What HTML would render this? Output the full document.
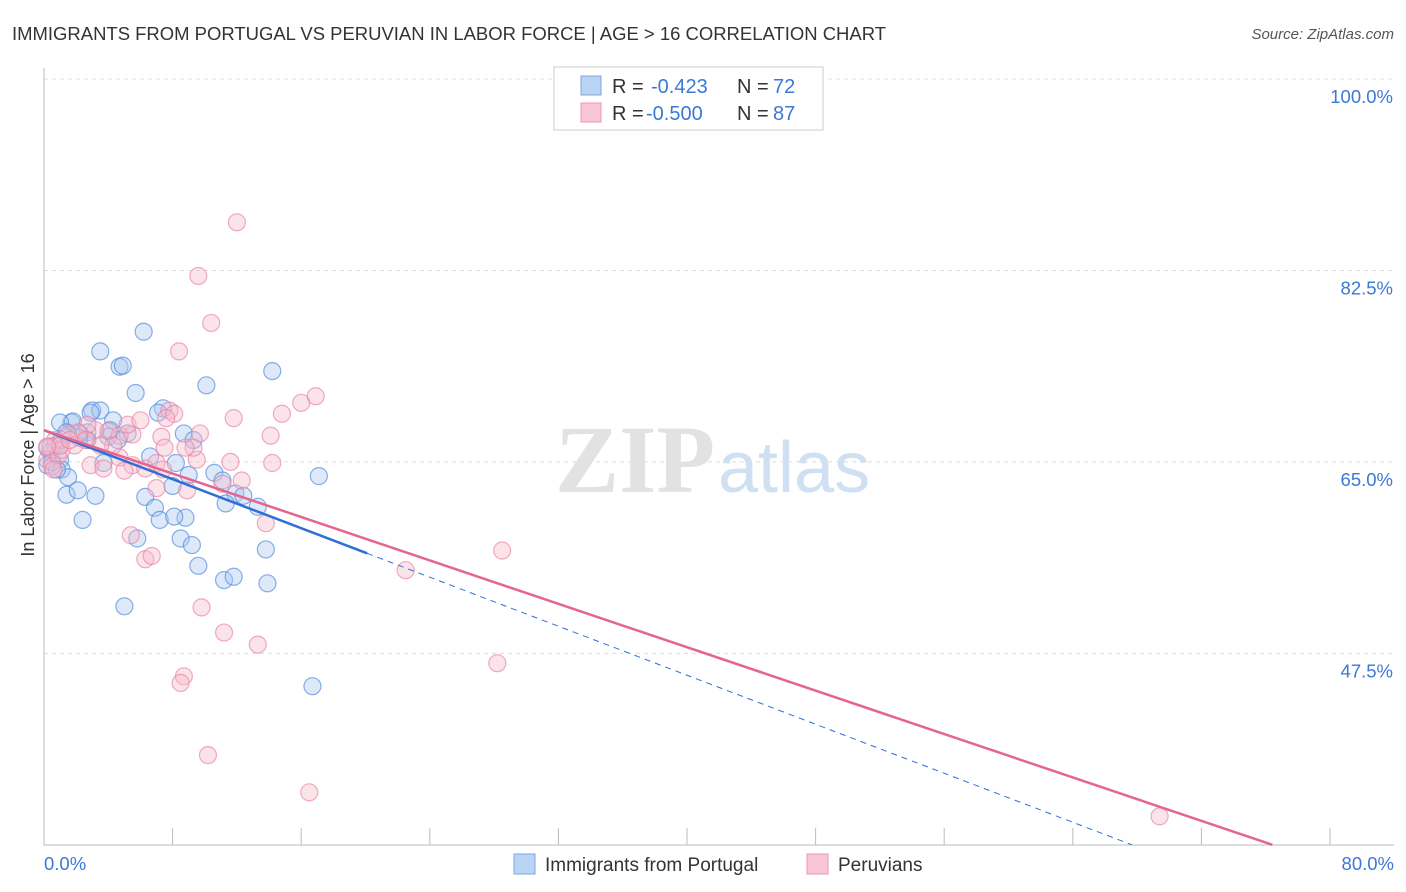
<!DOCTYPE html>
<html><head><meta charset="utf-8"><style>
body{margin:0;background:#fff;font-family:"Liberation Sans",sans-serif;}
svg{display:block}
</style></head><body>
<svg id="chart" width="1406" height="892">
<text x="12" y="40" font-size="18" fill="#333" textLength="874" lengthAdjust="spacingAndGlyphs">IMMIGRANTS FROM PORTUGAL VS PERUVIAN IN LABOR FORCE | AGE &gt; 16 CORRELATION CHART</text>
<text x="1394" y="39" font-size="15" fill="#555" font-style="italic" text-anchor="end">Source: ZipAtlas.com</text>
<text x="34" y="455" font-size="18" fill="#333" text-anchor="middle" transform="rotate(-90 34 455)">In Labor Force | Age &gt; 16</text>
<g id="grid"></g>
<text x="555" y="492" font-size="96" fill="#e2e2e2" font-family="Liberation Serif,serif" font-weight="bold">ZIP</text>
<text x="718" y="492" font-size="72" fill="#cfe0f3">atlas</text>
<g id="points"></g>
<g id="lines"></g>
<g>
<rect x="554" y="67" width="269" height="63" fill="#fff" stroke="#ccc"/>
<rect x="581" y="76" width="20" height="19" fill="#b9d3f3" stroke="#7aa7e0"/>
<rect x="581" y="103" width="20" height="19" fill="#f9c6d5" stroke="#ee95ae"/>
<text x="612" y="93" font-size="20" fill="#333">R =</text>
<text x="651" y="93" font-size="20" fill="#3b78d8">-0.423</text>
<text x="737" y="93" font-size="20" fill="#333">N =</text>
<text x="773" y="93" font-size="20" fill="#3b78d8">72</text>
<text x="612" y="120" font-size="20" fill="#333">R =</text>
<text x="646" y="120" font-size="20" fill="#3b78d8">-0.500</text>
<text x="737" y="120" font-size="20" fill="#333">N =</text>
<text x="773" y="120" font-size="20" fill="#3b78d8">87</text>
</g>
<g>
<rect x="514" y="854" width="21" height="20" fill="#b9d3f3" stroke="#7aa7e0"/>
<text x="545" y="871" font-size="19" fill="#333">Immigrants from Portugal</text>
<rect x="807" y="854" width="21" height="20" fill="#f9c6d5" stroke="#ee95ae"/>
<text x="838" y="871" font-size="19" fill="#333">Peruvians</text>
</g>
</svg>
<script>
const yTicks=[100,82.5,65,47.5];
const yTickLabels=["100.0%","82.5%","65.0%","47.5%"];
const xTickLabels=["0.0%","80.0%"];
const blueX=[6.2,3.5,4.7,4.9,5.7,10.1,14.2,7.4,3.0,3.5,4.3,1.7,1.8,2.9,1.0,2.7,4.0,5.2,7.1,8.7,9.3,2.7,2.2,0.7,0.4,1.0,0.2,1.1,1.5,1.4,3.2,2.1,2.4,5.0,3.7,6.6,8.2,8.0,9.0,6.3,6.9,7.2,8.8,8.5,9.2,5.8,9.6,11.2,11.8,13.8,13.9,10.6,11.1,11.9,11.3,12.4,13.3,17.1,16.7,8.1,1.1,0.2,0.5,0.8,1.4,2.2,4.6,4.1];
const blueY=[76.9,75.1,73.7,73.8,71.3,72.0,73.3,69.9,69.7,69.7,68.8,68.6,68.7,69.5,68.6,67.7,67.3,67.6,69.5,67.6,67.0,67.0,67.2,66.5,65.9,65.2,64.7,64.3,63.6,62.0,61.9,62.4,59.7,51.8,64.9,65.5,64.9,62.8,63.8,61.8,60.8,59.7,59.9,58.0,57.4,58.0,55.5,54.2,54.5,57.0,53.9,64.0,63.3,62.1,61.2,61.9,60.9,63.7,44.5,60.0,67.0,66.3,65.0,64.3,67.7,67.6,67.0,67.9];
const pinkX=[12.0,9.6,10.4,8.4,16.9,16.0,14.8,11.8,7.8,8.1,7.6,14.1,9.7,7.3,5.5,4.7,4.0,3.2,2.7,2.1,1.5,0.7,0.4,0.2,0.5,0.9,1.1,1.9,2.9,3.7,4.7,5.5,6.3,7.0,7.4,7.0,8.9,9.5,9.3,11.6,12.3,11.1,14.2,13.8,5.4,6.3,6.7,9.8,11.2,13.3,8.7,8.5,10.2,16.5,22.5,28.5,28.2,69.4,5.2,4.3,2.6,3.5,6.0,1.0,1.6,7.5,8.8,5.0,0.2,0.6];
const pinkY=[86.9,82.0,77.7,75.1,71.0,70.4,69.4,69.0,69.7,69.4,69.0,67.4,67.6,67.3,67.5,67.4,67.8,67.9,68.4,67.7,67.5,67.0,66.4,65.2,64.6,65.6,66.1,66.5,64.7,64.4,65.4,64.7,64.4,64.9,64.3,62.6,62.4,65.2,66.3,65.0,63.3,63.0,64.9,59.4,58.3,56.1,56.4,51.7,49.4,48.3,45.4,44.8,38.2,34.8,55.1,56.9,46.6,32.6,68.4,66.5,67.0,66.5,68.8,66.5,67.0,66.3,66.3,64.2,66.4,64.3];
const blueTrend=[67.9,-0.56];
const pinkTrend=[67.9,-0.496];
const NS="http://www.w3.org/2000/svg";
const X0=44,X1=1330,Y0=79;
function sx(v){return X0+(X1-X0)*v/80;}
function sy(v){return Y0+(100-v)*10.94;}
function mk(tag,attrs,parent){const e=document.createElementNS(NS,tag);for(const k in attrs)e.setAttribute(k,attrs[k]);parent.appendChild(e);return e;}
const grid=document.getElementById('grid');
yTicks.forEach((t,i)=>{
 const l=mk('line',{x1:X0,x2:1394,y1:sy(t),y2:sy(t),stroke:'#ddd','stroke-dasharray':'4 4'},grid);
 
 
 const tx=mk('text',{x:1393,y:sy(t)+24,'font-size':18.5,fill:'#3b78d8','text-anchor':'end'},grid);
 tx.textContent=yTickLabels[i];
 
 
});
const ax=mk('line',{x1:X0,x2:X0,y1:68,y2:845,stroke:'#bbb'},grid);


const bx=mk('line',{x1:X0,x2:1394,y1:845,y2:845,stroke:'#bbb'},grid);


for(let i=0;i<=10;i++){
 const t=mk('line',{x1:sx(i*8),x2:sx(i*8),y1:828,y2:845,stroke:'#bbb'},grid);
 
 
}
[[0,'start',44],[80,'end',1394]].forEach((d,i)=>{
 const t=mk('text',{x:d[2],y:870,'font-size':18.5,fill:'#3b78d8','text-anchor':d[1]},grid);
 t.textContent=xTickLabels[i];
 
 
});
const pts=document.getElementById('points');
function drawPts(xs,ys,fill,stroke,name){
 xs.forEach((x,i)=>{
  const c=mk('circle',{cx:sx(x),cy:sy(ys[i]),r:8.5,fill:fill,'fill-opacity':0.4,stroke:stroke,'stroke-opacity':0.65,'stroke-width':1.2},pts);
  
  
 });
}
drawPts(blueX,blueY,'#a9c8ef','#4a86db','point-portugal');
drawPts(pinkX,pinkY,'#f6b8cb','#ea7fa0','point-peruvian');
const lines=document.getElementById('lines');
const bEnd=20.1;
const bl=mk('line',{x1:sx(0),y1:sy(blueTrend[0]),x2:sx(bEnd),y2:sy(blueTrend[0]+blueTrend[1]*bEnd),stroke:'#2d6fd6','stroke-width':2.5},lines);


const bEnd2=(30-blueTrend[0])/blueTrend[1];
const bd=mk('line',{x1:sx(bEnd),y1:sy(blueTrend[0]+blueTrend[1]*bEnd),x2:sx(bEnd2),y2:sy(30),stroke:'#2d6fd6','stroke-width':1,'stroke-dasharray':'6 5'},lines);


const pEnd=(30-pinkTrend[0])/pinkTrend[1];
const pl=mk('line',{x1:sx(0),y1:sy(pinkTrend[0]),x2:sx(pEnd),y2:sy(30),stroke:'#e4658f','stroke-width':2.5},lines);


</script>
</body></html>
